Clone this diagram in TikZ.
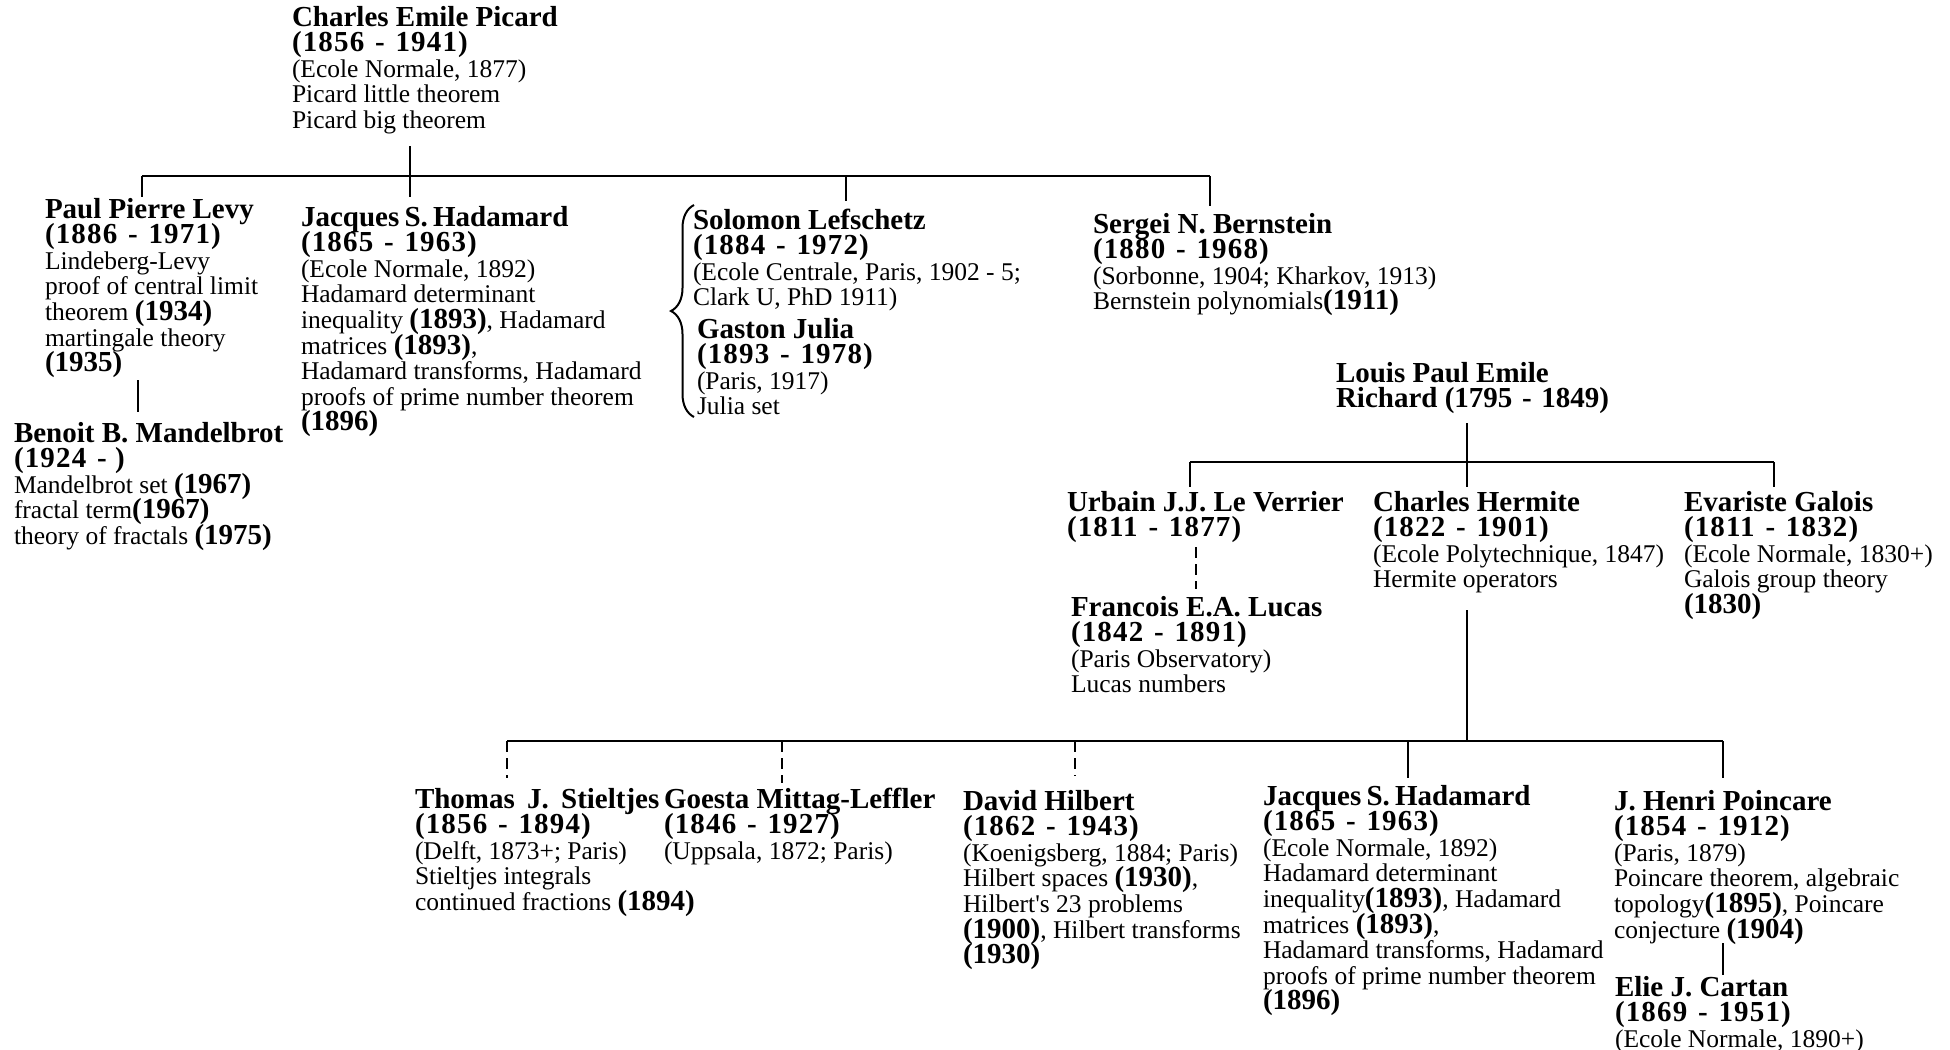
\documentclass[tikz,border=0pt]{standalone}
\usepackage{fontspec}
\setmainfont{Liberation Serif}
\newfontfamily\yearfont[LetterSpace=4.0]{Liberation Serif Bold}
\usetikzlibrary{decorations.pathreplacing}
\newcommand\B[1]{{\fontsize{14.5}{12.8}\selectfont\bfseries #1}}
\newcommand\Y[2]{{\fontsize{14.5}{12.8}\yearfont (#1\hspace{1.2pt} -\hspace{1.2pt} #2)}}
\newcommand\pp[1]{\vtop{\baselineskip=12.8pt\lineskiplimit=-100pt\lineskip=0pt\def\\{\egroup\hbox\bgroup}\hbox\bgroup#1\egroup}}
\tikzset{
  person/.style={anchor=base west, inner sep=0pt, outer sep=0pt, font=\fontsize{12.75}{12.8}\selectfont},
  conn/.style={line width=1.1pt},
  bar/.style={line width=1.4pt},
  dconn/.style={line width=1.1pt, dash pattern=on 5.5pt off 3pt},
}
\begin{document}
\begin{tikzpicture}[x=0.5pt,y=-0.5pt]
\useasboundingbox (0,0) rectangle (1950,1050);
% people
\node[person] (picard) at (292,26) {\pp{\B{Charles Emile Picard}\\\Y{1856}{1941}\\(Ecole Normale, 1877)\\Picard little theorem\\Picard big theorem}};
\node[person] (levy) at (45,218) {\pp{\B{Paul Pierre Levy}\\\Y{1886}{1971}\\Lindeberg-Levy\\proof of central limit\\theorem \B{(1934)}\\martingale theory\\\B{(1935)}}};
\node[person] (mandel) at (14,442) {\pp{\B{Benoit B. Mandelbrot}\\{\fontsize{14.5}{12.8}\yearfont (1924\hspace{1.2pt} - )}\\Mandelbrot set \B{(1967)}\\fractal term\B{(1967)}\\theory of fractals \B{(1975)}}};
\node[person] (hadA) at (301,226) {\pp{\B{Jacques\hspace{-1pt} S.\hspace{-1pt} Hadamard}\\\Y{1865}{1963}\\(Ecole Normale, 1892)\\Hadamard determinant\\inequality \B{(1893)}, Hadamard\\matrices \B{(1893)},\\Hadamard transforms, Hadamard\\proofs of prime number theorem\\\B{(1896)}}};
\node[person] (lefschetz) at (693,229) {\pp{\B{Solomon Lefschetz}\\\Y{1884}{1972}\\(Ecole Centrale, Paris, 1902 - 5;\\Clark U, PhD 1911)}};
\node[person] (julia) at (697,338) {\pp{\B{Gaston Julia}\\\Y{1893}{1978}\\(Paris, 1917)\\Julia set}};
\node[person] (bernstein) at (1093,233) {\pp{\B{Sergei N. Bernstein}\\\Y{1880}{1968}\\(Sorbonne, 1904; Kharkov, 1913)\\Bernstein polynomials\B{(1911)}}};
\node[person] (richard) at (1336,382) {\pp{\B{Louis Paul Emile}\\\B{Richard (1795\hspace{1.2pt} -\hspace{1.2pt} 1849)}}};
\node[person] (verrier) at (1067,511) {\pp{\B{Urbain J.J. Le Verrier}\\\Y{1811}{1877}}};
\node[person] (hermite) at (1373,511) {\pp{\B{Charles Hermite}\\\Y{1822}{1901}\\(Ecole Polytechnique, 1847)\\Hermite operators}};
\node[person] (galois) at (1684,511) {\pp{\B{Evariste Galois}\\\Y{1811}{1832}\\(Ecole Normale, 1830+)\\Galois group theory\\\B{(1830)}}};
\node[person] (lucas) at (1071,616) {\pp{\B{Francois E.A. Lucas}\\\Y{1842}{1891}\\(Paris Observatory)\\Lucas numbers}};
\node[person] (stieltjes) at (415,808) {\pp{\B{Thomas\hspace{2.5pt} J.\hspace{2.5pt} Stieltjes}\\\Y{1856}{1894}\\(Delft, 1873+; Paris)\\Stieltjes integrals\\continued fractions \B{(1894)}}};
\node[person] (mittag) at (664,808) {\pp{\B{Goesta Mittag-Leffler}\\\Y{1846}{1927}\\(Uppsala, 1872; Paris)}};
\node[person] (hilbert) at (963,810) {\pp{\B{David Hilbert}\\\Y{1862}{1943}\\(Koenigsberg, 1884; Paris)\\Hilbert spaces \B{(1930)},\\Hilbert\textquotesingle s 23 problems\\\B{(1900)}, Hilbert transforms\\\B{(1930)}}};
\node[person] (hadB) at (1263,805) {\pp{\B{Jacques\hspace{-1pt} S.\hspace{-1pt} Hadamard}\\\Y{1865}{1963}\\(Ecole Normale, 1892)\\Hadamard determinant\\inequality\B{(1893)}, Hadamard\\matrices \B{(1893)},\\Hadamard transforms, Hadamard\\proofs of prime number theorem\\\B{(1896)}}};
\node[person] (poincare) at (1614,810) {\pp{\B{J. Henri Poincare}\\\Y{1854}{1912}\\(Paris, 1879)\\Poincare theorem, algebraic\\topology\B{(1895)}, Poincare\\conjecture \B{(1904)}}};
\node[person] (cartan) at (1615,996) {\pp{\B{Elie J. Cartan}\\\Y{1869}{1951}\\(Ecole Normale, 1890+)}};
% connector points
\coordinate (picard-b) at (410,146);
\coordinate (barA-l) at (142,176);
\coordinate (barA-r) at (1210,176);
\coordinate (levy-t) at (142,197);
\coordinate (hadA-t) at (410,197);
\coordinate (lef-t) at (846,201);
\coordinate (bern-t) at (1210,206);
\coordinate (levy-b) at (138,380);
\coordinate (mandel-t) at (138,412);
\coordinate (brace-b) at (694,417);
\coordinate (brace-t) at (694,205);
\coordinate (richard-b) at (1467,423);
\coordinate (barB-l) at (1190,462);
\coordinate (barB-r) at (1774,462);
\coordinate (verrier-t) at (1190,487);
\coordinate (hermite-t) at (1467,487);
\coordinate (galois-t) at (1774,487);
\coordinate (verrier-b) at (1196,547);
\coordinate (lucas-t) at (1196,589);
\coordinate (hermite-b) at (1467,610);
\coordinate (barC-l) at (507,741);
\coordinate (barC-r) at (1723,741);
\coordinate (barC-m) at (1467,741);
\coordinate (stie-t) at (507,778);
\coordinate (mitt-t) at (782,783);
\coordinate (hilb-t) at (1075,776);
\coordinate (hadB-t) at (1408,778);
\coordinate (poin-t) at (1723,778);
\coordinate (poin-b) at (1723,943);
\coordinate (cartan-t) at (1723,975);
% connectors
\draw[bar] (barA-l) -- (barA-r);
\draw[conn] (picard-b) -- (hadA-t);
\draw[conn] (barA-l) -- (levy-t);
\draw[conn] (lef-t |- barA-l) -- (lef-t);
\draw[conn] (barA-r) -- (bern-t);
\draw[conn] (levy-b) -- (mandel-t);
\draw[line width=1pt, decorate, decoration={brace, amplitude=11.5pt}] (brace-b) -- (brace-t);
\draw[bar] (barB-l) -- (barB-r);
\draw[conn] (richard-b) -- (hermite-t);
\draw[conn] (barB-l) -- (verrier-t);
\draw[conn] (barB-r) -- (galois-t);
\draw[dconn] (verrier-b) -- (lucas-t);
\draw[conn] (hermite-b) -- (barC-m);
\draw[bar] (barC-l) -- (barC-r);
\draw[dconn] (barC-l) -- (stie-t);
\draw[dconn] (mitt-t |- barC-l) -- (mitt-t);
\draw[dconn] (hilb-t |- barC-l) -- (hilb-t);
\draw[conn] (hadB-t |- barC-l) -- (hadB-t);
\draw[conn] (barC-r) -- (poin-t);
\draw[conn] (poin-b) -- (cartan-t);
\end{tikzpicture}
\end{document}
